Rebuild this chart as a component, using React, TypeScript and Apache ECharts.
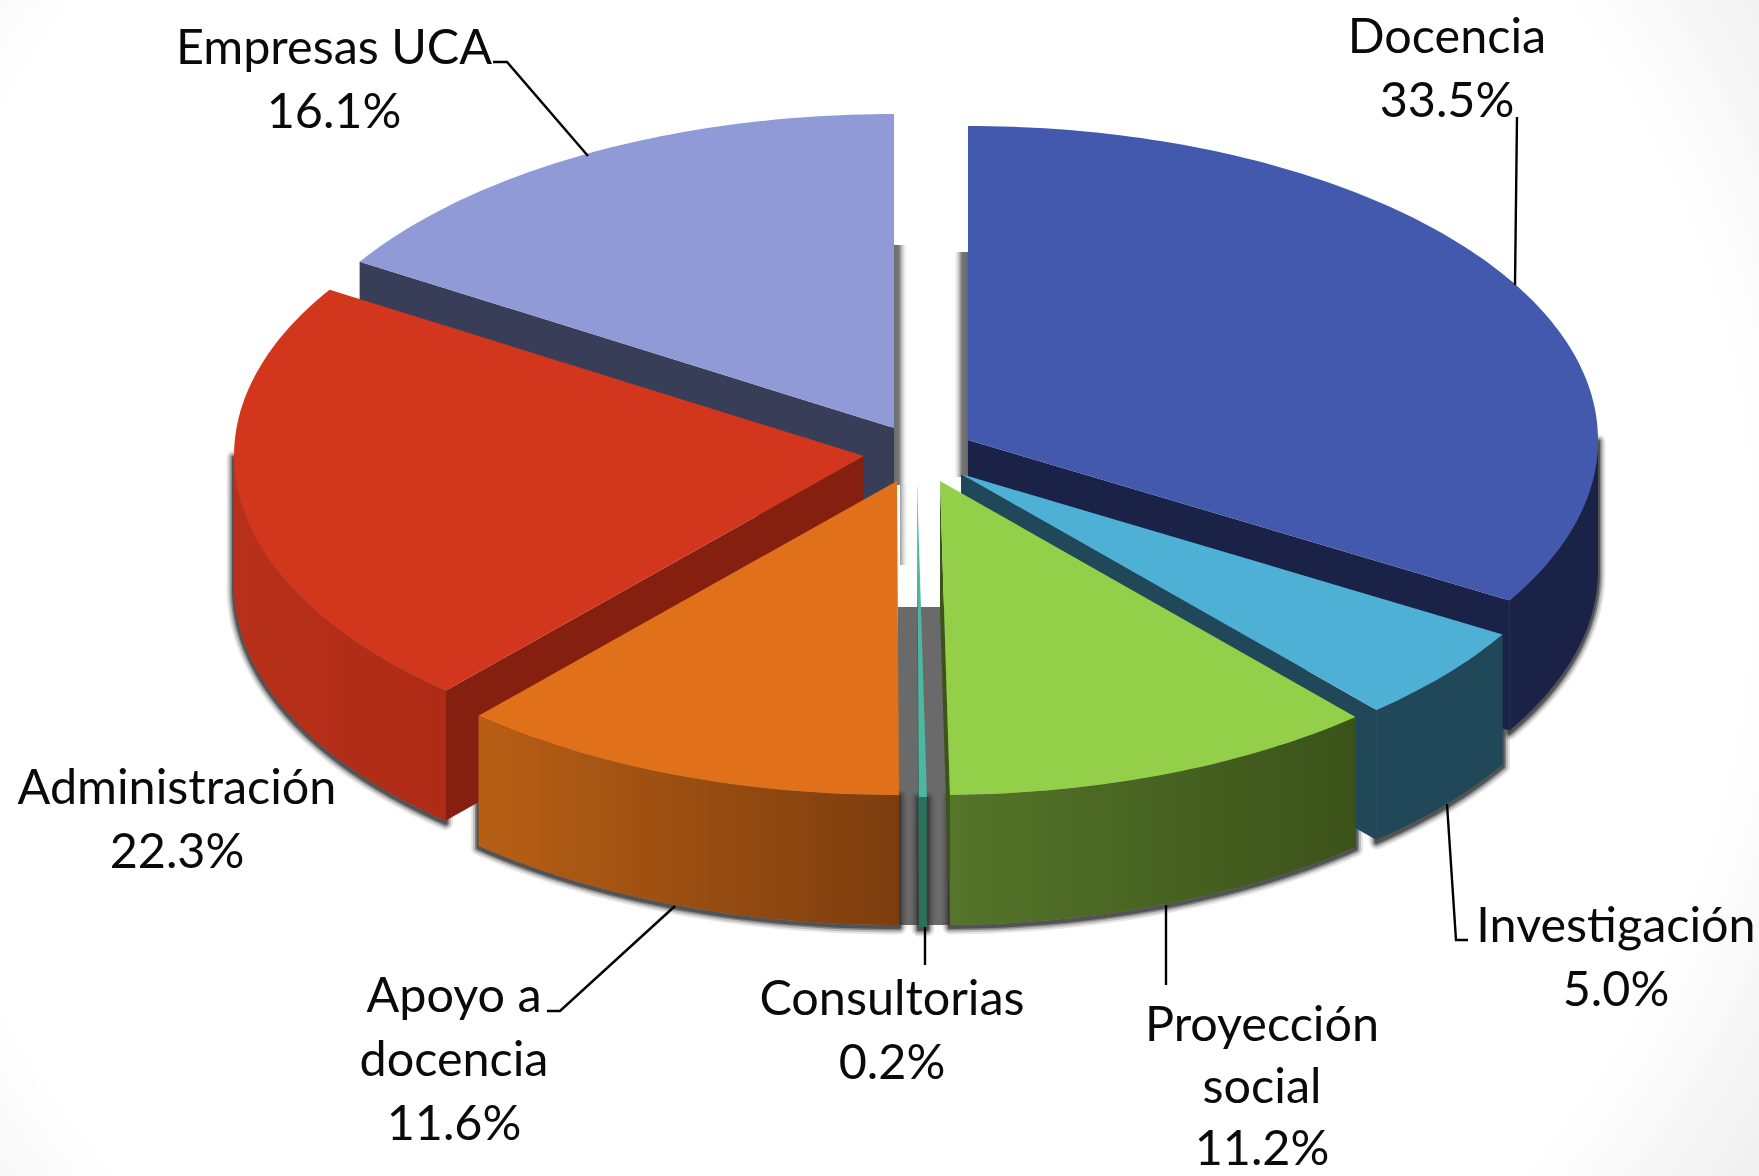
import React, { useEffect, useRef } from "react";
import * as echarts from "echarts";

const NAMES = ["Docencia", "Investigación", "Proyección\nsocial", "Consultorias", "Apoyo a\ndocencia", "Administración", "Empresas UCA"];
const VALUES = [33.5, 5.0, 11.2, 0.2, 11.6, 22.3, 16.1];
const TOP_COLORS = ["#4359AE", "#4FB0D6", "#93CF48", "#4DB8A0", "#E0701A", "#D2361C", "#8F9AD6"];
const CUT_COLORS = ["#1A2248", "#204859", "#3C531A", "#2E6E5C", "#7C3D0E", "#852011", "#393E58"];
const WALL_LEFT = ["#1A2248", "#204859", "#55752A", "#2E6E5C", "#B85F15", "#B8301A", "#393E58"];
const WALL_RIGHT = ["#1A2248", "#204859", "#3B5219", "#2E6E5C", "#7C3D0E", "#AE2B16", "#393E58"];
const PAINT_ORDER = [6, 0, 5, 1, 4, 2, 3];

// layout only
const W = 1759, H = 1176, RX = 630, RY = 314, DEPTH = 130;
const APEX = [[968, 440], [961, 474], [940, 481], [917, 483], [897, 481], [864, 456], [894, 428]];
const LABEL_XY = [[1447, 66], [1616, 955], [1262, 1084], [892, 1028], [454, 1057], [177, 817], [334, 77]];
const LINE_HEIGHTS = [64, 64, 62, 64, 64, 64, 64];
const LEADERS = [
  [[1517, 117], [1515, 285]],
  [[1447, 804], [1456, 940], [1468, 940]],
  [[1166, 905], [1166, 985]],
  [[925, 927], [925, 965]],
  [[675, 906], [560, 1011], [547, 1011]],
  [[588, 156], [507, 62], [493, 62]],
];
const FONT = "Lato";
const FONT_SIZE = 48.5;
const SOFT_EDGE = [
  { width: 15, alpha: 0.12 },
  { width: 11, alpha: 0.22 },
  { width: 7, alpha: 0.4 },
  { width: 4, alpha: 0.6 },
];

const rad = (d: number) => (d * Math.PI) / 180;
const pt = (c: number[], a: number, dy = 0) => [c[0] + RX * Math.sin(rad(a)), c[1] - RY * Math.cos(rad(a)) + dy];
const arc = (c: number[], a0: number, a1: number, dy = 0) => {
  const out: number[][] = [];
  const n = Math.max(2, Math.ceil(Math.abs(a1 - a0)));
  for (let k = 0; k <= n; k++) out.push(pt(c, a0 + ((a1 - a0) * k) / n, dy));
  return out;
};

const TOTAL = VALUES.reduce((s, v) => s + v, 0);
const sweep = (v: number) => (v / TOTAL) * 360;
const STARTS: number[] = [];
VALUES.reduce((acc, v, i) => {
  STARTS[i] = acc;
  return acc + sweep(v);
}, 0);

const wallPoints = (i: number, value: number) => {
  const a0 = STARTS[i];
  const a1 = a0 + sweep(value);
  const w0 = Math.max(a0, 90);
  const w1 = Math.min(a1, 270);
  if (w1 <= w0) return null;
  return [...arc(APEX[i], w0, w1), ...arc(APEX[i], w1, w0, DEPTH)];
};

function renderShadow(_: any, api: any) {
  const points = wallPoints(api.value(0), api.value(1));
  if (!points) return { type: "group", children: [] };
  return {
    type: "group",
    children: SOFT_EDGE.map((s) => ({
      type: "polygon",
      y: 2,
      shape: { points },
      style: { fill: "none", stroke: `rgba(50,50,50,${s.alpha})`, lineWidth: s.width, lineJoin: "round" },
    })),
  };
}

function renderItem(_: any, api: any) {
  const i = api.value(0);
  const value = api.value(1);
  const a0 = STARTS[i];
  const a1 = a0 + sweep(value);
  const c = APEX[i];
  const children: any[] = [];
  const cut = (a: number) => {
    const p = pt(c, a);
    children.push({
      type: "polygon",
      shape: { points: [c, p, [p[0], p[1] + DEPTH], [c[0], c[1] + DEPTH]] },
      style: { fill: CUT_COLORS[i] },
    });
  };
  if (a1 < 180) cut(a1);
  if (a0 > 180) cut(a0);
  const wall = wallPoints(i, value);
  if (wall) {
    children.push({
      type: "polygon",
      shape: { points: wall },
      style: {
        fill: new echarts.graphic.LinearGradient(0, 0, 1, 0, [
          { offset: 0, color: WALL_LEFT[i] },
          { offset: 1, color: WALL_RIGHT[i] },
        ]),
      },
    });
  }
  children.push({
    type: "polygon",
    shape: { points: [c, ...arc(c, a0, a1)] },
    style: { fill: TOP_COLORS[i] },
  });
  return { type: "group", children };
}

const strip = (x: number, y: number, w: number, h: number, stops: [number, string][]) => ({
  type: "rect",
  z: 0,
  shape: { x, y, width: w, height: h },
  style: {
    fill: new echarts.graphic.LinearGradient(0, 0, 1, 0, stops.map(([offset, color]) => ({ offset, color }))),
  },
});

export default function App() {
  const ref = useRef<HTMLDivElement>(null);
  useEffect(() => {
    document.body.style.margin = "0";
    const chart = echarts.init(ref.current!, undefined, { renderer: "svg" });
    const data = PAINT_ORDER.map((i) => [i, VALUES[i]]);
    chart.setOption({
      animation: false,
      backgroundColor: "#ffffff",
      graphic: [
        {
          type: "rect",
          z: -1,
          shape: { x: 0, y: 0, width: W, height: H },
          style: {
            fill: new echarts.graphic.RadialGradient(820, 560, 1130, [
              { offset: 0, color: "#ffffff" },
              { offset: 0.82, color: "#ffffff" },
              { offset: 1, color: "#efefef" },
            ], true),
          },
        },
        strip(890, 245, 20, 240, [[0, "#666666"], [0.45, "#777777"], [0.9, "rgba(255,255,255,0)"], [1, "rgba(255,255,255,0)"]]),
        strip(900, 485, 9, 80, [[0, "#9a9a9a"], [1, "rgba(255,255,255,0)"]]),
        strip(953, 252, 16, 225, [[0, "rgba(255,255,255,0)"], [0.55, "#777777"], [1, "#666666"]]),
        {
          type: "rect",
          z: 0,
          shape: { x: 898, y: 607, width: 54, height: 318 },
          style: { fill: "#6A6A6A" },
        },
        ...LEADERS.map((points) => ({
          type: "polyline",
          z: 5,
          shape: { points },
          style: { stroke: "#000000", lineWidth: 2.4, fill: "none" },
        })),
        ...NAMES.map((name, i) => ({
          type: "text",
          z: 6,
          x: LABEL_XY[i][0],
          y: LABEL_XY[i][1],
          style: {
            text: `${name}\n${VALUES[i].toFixed(1)}%`,
            align: "center",
            verticalAlign: "middle",
            font: `${FONT_SIZE}px ${FONT}`,
            lineHeight: LINE_HEIGHTS[i],
            fill: "#0a0a0a",
          },
        })),
      ],
      series: [
        { type: "custom", coordinateSystem: "none", silent: true, z: 1, data, renderItem: renderShadow },
        { type: "custom", coordinateSystem: "none", silent: true, z: 2, data, renderItem },
      ],
    });
    return () => chart.dispose();
  }, []);
  return <div ref={ref} style={{ position: "fixed", left: 0, top: 0, width: W, height: H }} />;
}
